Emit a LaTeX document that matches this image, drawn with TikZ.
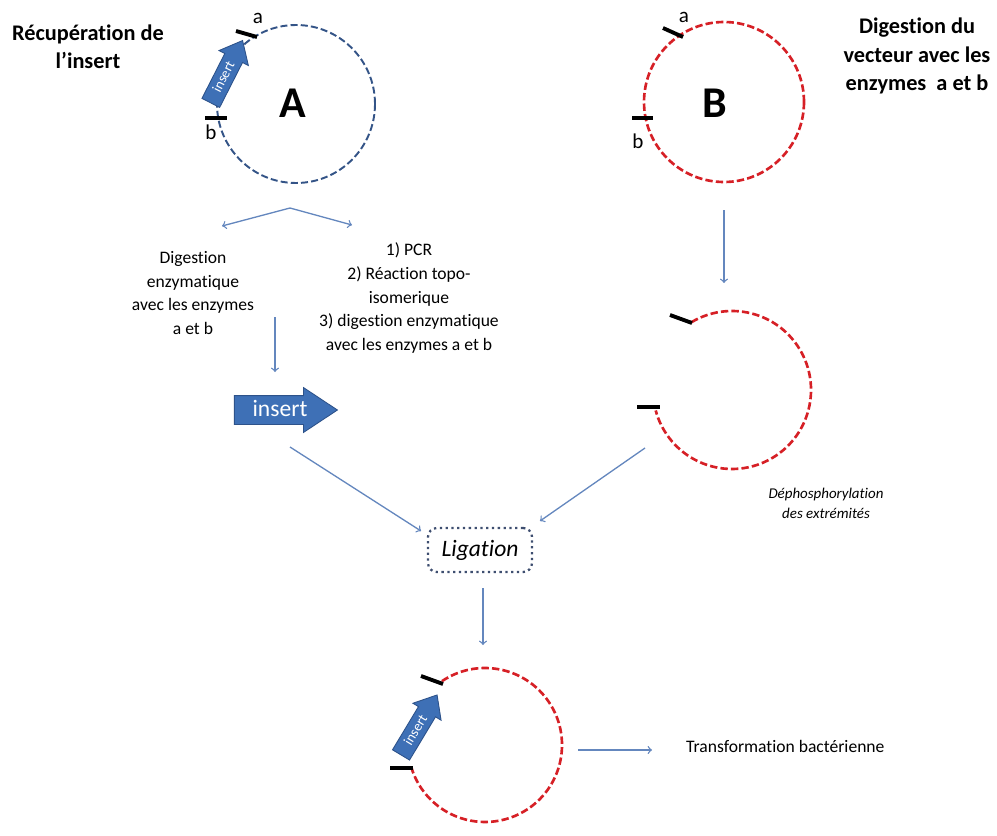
\documentclass[tikz,border=0pt]{standalone}
\usepackage{fontspec}
\setmainfont{Carlito}[Ligatures=NoCommon]
\usetikzlibrary{calc,shapes.arrows}
\definecolor{plasblue}{RGB}{52,84,135}
\definecolor{plasred}{RGB}{214,32,38}
\definecolor{linkblue}{RGB}{100,135,190}
\definecolor{insertfill}{RGB}{62,112,182}
\definecolor{insertdraw}{RGB}{45,82,138}
\definecolor{ligdraw}{RGB}{62,78,112}
\def\centerarc[#1](#2)(#3:#4:#5){\draw[#1] ($(#2)+({#5*cos(#3)},{#5*sin(#3)})$) arc (#3:#4:#5);}
\tikzset{
	conn/.style={linkblue, line width = 0.75pt, ->},
	plasA/.style={plasblue, line width = 1.1pt, dash pattern=on 4pt off 1.8pt},
	plasB/.style={plasred, line width = 1.5pt, dash pattern=on 4.2pt off 1.8pt},
	cut/.style={black, line width = 2.2pt},
	insertarrow/.style={single arrow, fill=insertfill, draw=insertdraw, line width = 0.5pt, text=white, inner xsep=0pt},
	smallins/.style={insertarrow, minimum height=1.4cm, single arrow head extend=0.13cm, single arrow tip angle=80, text height=0.2cm, text depth=0.04cm, inner ysep=0.07cm, font=\fontsize{8}{8}\selectfont},
	bigtitle/.style={align=center, font=\bfseries\fontsize{12.7}{16}\selectfont},
	steptext/.style={align=center, font=\fontsize{10}{13.4}\selectfont},
	plaslabel/.style={font=\bfseries\fontsize{25}{25}\selectfont},
	cutlabel/.style={font=\fontsize{12}{12}\selectfont, inner sep=0pt},
	ligbox/.style={draw=ligdraw, dotted, line width = 1.3pt, rounded corners=5pt, minimum width=2.08cm, minimum height=0.88cm, font=\itshape\fontsize{13.4}{13.4}\selectfont}
}
\begin{document}
\begin{tikzpicture}[x=0.02cm, y=-0.02cm]
			%%%%% START %%%%%
			\useasboundingbox (0,0) rectangle (997,835);
			
			% plasmide A
			\coordinate (cA) at (296,104);
			\draw[plasA] (cA) circle (79);
			\draw[cut] (236,31) -- (257,37);
			\draw[cut] (205,118) -- (227,118);
			\node[smallins, rotate=63] (insA) at (224,77) {insert};
			\node[cutlabel] (labAa) at (258,18) {a};
			\node[cutlabel] (labAb) at (211,132) {b};
			\node[plaslabel] (labA) at (293,103) {A};
			\node[bigtitle] (titleA) at (88,47) {Récupération de\\l’insert};
			
			% plasmide B
			\coordinate (cB) at (724,102);
			\draw[plasB] (cB) circle (80);
			\draw[cut] (663,28) -- (683,37);
			\draw[cut] (632,118) -- (653,118);
			\node[cutlabel] (labBa) at (684,17) {a};
			\node[cutlabel] (labBb) at (638,141) {b};
			\node[plaslabel] (labB) at (715,103) {B};
			\node[bigtitle] (titleB) at (917,56) {Digestion du\\vecteur avec les\\enzymes~ a et b};
			
			% fourche sous A
			\coordinate (fork) at (290,208);
			\coordinate (forkL) at (222,226);
			\coordinate (forkR) at (352,225);
			\draw[conn] (fork) -- (forkL);
			\draw[conn] (fork) -- (forkR);
			\node[steptext] (digA) at (193,293) {Digestion\\enzymatique\\avec les enzymes\\a et b};
			\node[steptext] (pcr) at (409,298) {1) PCR\\2) Réaction topo-\\isomerique\\3) digestion enzymatique\\avec les enzymes a et b};
			\coordinate (downA1) at (275,317);
			\coordinate (downA2) at (275,372);
			\draw[conn] (downA1) -- (downA2);
			
			% insert libre
			\node[insertarrow, minimum height=2.06cm, single arrow head extend=0.16cm, single arrow tip angle=67, text height=0.3cm, text depth=0.06cm, inner ysep=0.1cm, font=\fontsize{13.4}{13.4}\selectfont] (ins) at (275,410) {\hspace{0.2cm}insert};
			
			% vecteur ouvert
			\coordinate (downB1) at (724,210);
			\coordinate (downB2) at (724,283);
			\draw[conn] (downB1) -- (downB2);
			\coordinate (cD) at (732,390);
			\centerarc[plasB](cD)(-121:165:79);
			\draw[cut] (670,315) -- (692,323);
			\draw[cut] (637,407) -- (660,407);
			\node[align=center, font=\itshape\fontsize{8.5}{11.4}\selectfont] (dephos) at (826,503) {Déphosphorylation\\des extrémités};
			
			% ligation
			\node[ligbox] (lig) at (480,550) {Ligation};
			\coordinate (insOut) at (290,447);
			\coordinate (ligL) at (421,531);
			\coordinate (vecOut) at (645,448);
			\coordinate (ligR) at (540,521);
			\draw[conn] (insOut) -- (ligL);
			\draw[conn] (vecOut) -- (ligR);
			\coordinate (ligOut) at (483,588);
			\coordinate (ligEnd) at (483,645);
			\draw[conn] (ligOut) -- (ligEnd);
			
			% plasmide recombinant
			\coordinate (cC) at (485,745);
			\centerarc[plasB](cC)(-124:163:77);
			\draw[cut] (421,676) -- (443,684);
			\draw[cut] (390,768) -- (413,768);
			\node[smallins, rotate=59] (insC) at (416,730) {insert};
			\coordinate (transIn) at (578,750);
			\coordinate (transOut) at (652,750);
			\draw[conn] (transIn) -- (transOut);
			\node[anchor=west, font=\fontsize{10}{10}\selectfont] (trans) at (680,746) {Transformation bactérienne};
			%%%%% END %%%%%
		\end{tikzpicture}
\end{document}
